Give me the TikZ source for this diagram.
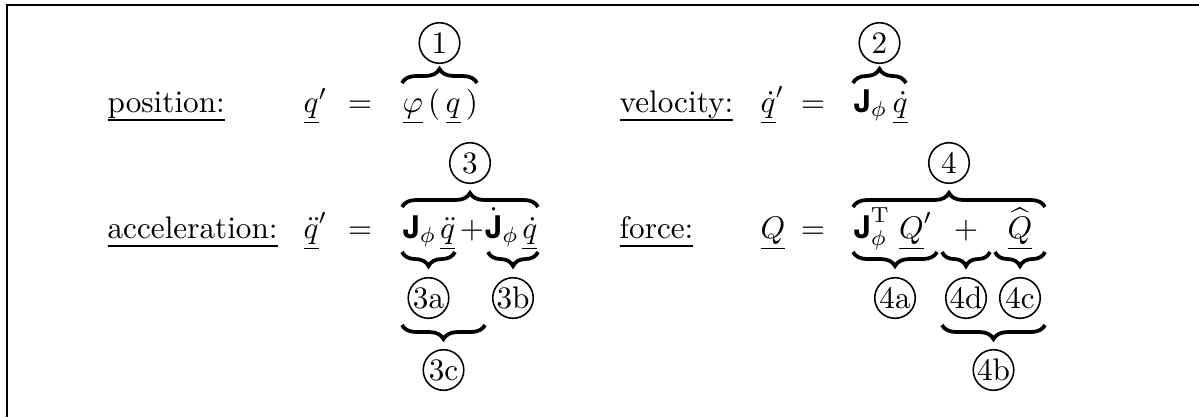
\documentclass[tikz,border=0pt]{standalone}
\usepackage{amsmath}
\usepackage{fontspec}
\newfontfamily\helv{TeX Gyre Heros}
\usetikzlibrary{decorations.pathreplacing}
\newcommand\Jb{\mbox{\helv\bfseries J}}
\newcommand\ulbl[1]{\setbox0\hbox{#1}\rlap{\vrule height -2.2pt depth 2.8pt width \wd0}\box0}
\begin{document}
\begin{tikzpicture}[x=0.3205pt,y=-0.3205pt,
  lbl/.style={anchor=base west, inner sep=0pt},
  eqs/.style={anchor=base, inner sep=0pt},
  circ/.style={circle, draw, line width=0.5pt, minimum size=13pt, inner sep=0pt},
  brc/.style={decorate, decoration={brace, amplitude=4.5pt}, line width=1.2pt},
  frame/.style={line width=0.64pt}]
\useasboundingbox (0,0) rectangle (1199,417);
% frame
\coordinate (fbl) at (7,417);
\coordinate (ftl) at (7,5);
\coordinate (ftr) at (1199,5);
\draw[frame] (fbl) -- (ftl) -- (ftr);

% ---------- row 1 ----------
\node[lbl] (posl) at (107,112) {\ulbl{position:}};
\node[lbl] (posq) at (303,112) {$\underline{q}'$};
\node[eqs] (poseq) at (360,112) {$=$};
\node[lbl] (posr) at (402,112) {$\underline{\varphi}\,(\,\underline{q}\,)$};
\coordinate (b1a) at (402,83);
\coordinate (b1b) at (477,83);
\draw[brc] (b1a) -- (b1b);
\node[circ] (c1) at (439.5,43) {1};

\node[lbl] (vell) at (619,112) {\ulbl{velocity:}};
\node[lbl] (velq) at (760,112) {$\underline{\dot q}'$};
\node[eqs] (veleq) at (813,112) {$=$};
\node[lbl] (velr) at (853,112) {$\Jb_{\phi}\,\underline{\dot q}$};
\coordinate (b2a) at (853,83);
\coordinate (b2b) at (906,83);
\draw[brc] (b2a) -- (b2b);
\node[circ] (c2) at (879.5,43) {2};

% ---------- row 2 ----------
\node[lbl] (accl) at (107,238) {\ulbl{acceleration:}};
\node[lbl] (accq) at (303,238) {$\underline{\ddot q}'$};
\node[eqs] (acceq) at (360,238) {$=$};
\node[lbl] (acca) at (402,238) {$\Jb_{\phi}\mkern2mu\underline{\ddot q}$};
\node[eqs] (accp) at (472,238) {$+$};
\node[anchor=base east, inner sep=0pt] (accb) at (538,238) {$\dot{\Jb}_{\phi}\mkern2mu\underline{\dot q}$};
\coordinate (b3a) at (402,207);
\coordinate (b3b) at (538,207);
\draw[brc] (b3a) -- (b3b);
\node[circ] (c3) at (470,163) {3};
\coordinate (b3aa) at (402,252);
\coordinate (b3ab) at (455,252);
\draw[brc] (b3ab) -- (b3aa);
\node[circ] (c3a) at (428.5,298) {3a};
\coordinate (b3ba) at (488,252);
\coordinate (b3bb) at (538,252);
\draw[brc] (b3bb) -- (b3ba);
\node[circ] (c3b) at (513,298) {3b};
\coordinate (b3ca) at (402,325);
\coordinate (b3cb) at (485,325);
\draw[brc] (b3cb) -- (b3ca);
\node[circ] (c3c) at (443.5,370) {3c};

\node[lbl] (forl) at (619,238) {\ulbl{force:}};
\node[lbl] (forq) at (760,238) {$\underline{Q}$};
\node[eqs] (foreq) at (813,238) {$=$};
\node[lbl] (fora) at (853,238) {$\Jb_{\phi}^{\mathrm{T}}\;\underline{Q}'$};
\node[eqs] (forp) at (966,238) {$+$};
\node[eqs] (forc) at (1020,238) {$\widehat{\underline{Q}}$};
\coordinate (b4a) at (853,207);
\coordinate (b4b) at (1045,207);
\draw[brc] (b4a) -- (b4b);
\node[circ] (c4) at (949,163) {4};
\coordinate (b4aa) at (853,252);
\coordinate (b4ab) at (937,252);
\draw[brc] (b4ab) -- (b4aa);
\node[circ] (c4a) at (895,298) {4a};
\coordinate (b4da) at (942,252);
\coordinate (b4db) at (990,252);
\draw[brc] (b4db) -- (b4da);
\node[circ] (c4d) at (966,298) {4d};
\coordinate (b4ca) at (995,252);
\coordinate (b4cb) at (1045,252);
\draw[brc] (b4cb) -- (b4ca);
\node[circ] (c4c) at (1020,298) {4c};
\coordinate (b4ba) at (942,325);
\coordinate (b4bb) at (1045,325);
\draw[brc] (b4bb) -- (b4ba);
\node[circ] (c4b) at (993.5,370) {4b};
\end{tikzpicture}
\end{document}
